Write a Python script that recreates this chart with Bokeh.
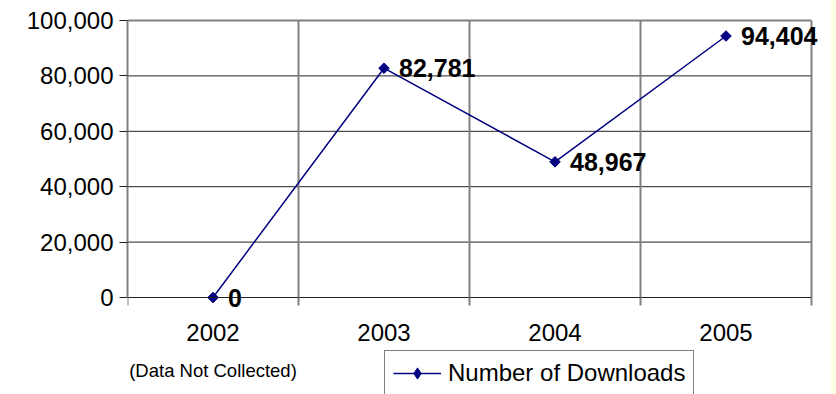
from bokeh.plotting import figure
from bokeh.models import (ColumnDataSource, Range1d, FixedTicker, NumeralTickFormatter,
                          LabelSet, Label, Legend, LegendItem, Spacer)
from bokeh.layouts import row
from bokeh.core.properties import value
from bokeh.embed import file_html
from bokeh.resources import INLINE
import numpy as np

years = ["2002", "2003", "2004", "2005"]
downloads = [0, 82781, 48967, 94404]
value_labels = ["0", "82,781", "48,967", "94,404"]
y_ticks = [0, 20000, 40000, 60000, 80000, 100000]
note_2002 = "(Data Not Collected)"

# layout geometry (pixels)
W, H = 831, 394
plot_left, plot_right, plot_top, plot_bottom = 127, 811, 20, 297
frame_top = 17
n = len(years)
y_max = y_ticks[-1]
px_y = y_max / (plot_bottom - plot_top)          # data units per pixel (y)
cat_px = (plot_right - plot_left) / n            # pixels per category
y_start = -(H - plot_bottom) * px_y
y_end = y_max + (plot_top - frame_top) * px_y
x_start = -0.5
x_end = n - 0.5 + (W - plot_right) / cat_px

xs = list(range(n))
src = ColumnDataSource(dict(x=xs, y=downloads, lab=value_labels))

p = figure(width=W, height=H, output_backend="svg", toolbar_location=None,
           x_range=Range1d(x_start, x_end), y_range=Range1d(y_start, y_end),
           min_border_left=plot_left, min_border_right=0, min_border_top=frame_top,
           min_border_bottom=0)
p.background_fill_color = "white"
p.border_fill_color = "white"
p.outline_line_color = None
p.xgrid.visible = False
p.ygrid.visible = False

# horizontal gridlines (dark)
gy = y_ticks[1:-1]
p.segment(x0=[-0.5] * len(gy), y0=gy, x1=[n - 0.5] * len(gy), y1=gy,
          line_color="#222222", line_width=1)
# vertical category boundaries + top border (grey)
bounds_x = [i + 0.5 for i in xs]
p.segment(x0=bounds_x, y0=[0] * n, x1=bounds_x, y1=[y_max] * n,
          line_color="#808080", line_width=2)
p.segment(x0=[-0.5], y0=[y_max], x1=[n - 0.5], y1=[y_max],
          line_color="#808080", line_width=2)

# x axis at y = 0
p.xaxis.fixed_location = 0
p.xaxis.bounds = (-0.5, n - 0.5)
p.xaxis.ticker = FixedTicker(ticks=xs, minor_ticks=[i - 0.5 for i in range(n + 1)])
p.xaxis.major_label_overrides = {i: y for i, y in enumerate(years)}
p.xaxis.major_tick_line_color = None
p.xaxis.major_tick_out = 0
p.xaxis.major_tick_in = 0
p.xaxis.minor_tick_line_color = "#808080"
p.xaxis.minor_tick_line_width = 2
p.xaxis.minor_tick_out = 8
p.xaxis.minor_tick_in = 0
p.xaxis.axis_line_color = "#222222"
p.xaxis.axis_line_width = 1
p.xaxis.major_label_standoff = 18
p.xaxis.major_label_text_font = "Liberation Sans"
p.xaxis.major_label_text_font_size = "24px"
p.xaxis.major_label_text_color = "black"

# y axis
p.yaxis.bounds = (0, y_max)
p.yaxis.ticker = FixedTicker(ticks=y_ticks)
p.yaxis.formatter = NumeralTickFormatter(format="0,0")
p.yaxis.minor_tick_line_color = None
p.yaxis.major_tick_line_color = "#222222"
p.yaxis.major_tick_out = 8
p.yaxis.major_tick_in = 0
p.yaxis.axis_line_color = "#808080"
p.yaxis.axis_line_width = 2
p.yaxis.major_label_standoff = 6
p.yaxis.major_label_text_font = "Liberation Sans"
p.yaxis.major_label_text_font_size = "24px"
p.yaxis.major_label_text_color = "black"

line_r = p.line("x", "y", source=src, line_color="#000080", line_width=1.5)
pts_r = p.scatter("x", "y", source=src, marker="square", size=7.5, angle=np.pi / 4,
                  fill_color="#000080", line_color="#000080")
# legend-only marker (legend glyphs ignore rotation); hidden in the plot itself
leg_marker = p.scatter("x", "y", source=src, marker="diamond", size=12,
                       fill_color="#000080", line_color="#000080", visible=False)

labels = LabelSet(x="x", y="y", text="lab", source=src, x_offset=15, y_offset=0,
                  text_font=value("Liberation Sans"), text_font_style="bold",
                  text_font_size=value("25px"), text_baseline="middle", text_align="left",
                  text_color="black")
p.add_layout(labels)

note = Label(x=0, y=0, x_units="data", y_units="data", y_offset=-73, text=note_2002,
             text_font="Liberation Sans", text_font_size="18.5px",
             text_align="center", text_baseline="middle", text_color="black")
p.add_layout(note)

legend = Legend(items=[LegendItem(label="Number of Downloads", renderers=[line_r, leg_marker])],
                location=(257, -2), orientation="vertical",
                glyph_width=48, glyph_height=28, label_height=28,
                label_standoff=7, padding=8, margin=0, spacing=0,
                label_text_font="Liberation Sans", label_text_font_size="24px",
                label_text_color="black", border_line_color="black", border_line_width=1,
                background_fill_color="white", background_fill_alpha=1)
p.add_layout(legend, "center")

strip = Spacer(width=836 - W, height=H, styles={"background-color": "#FFFFE6"})
layout = row(p, strip, spacing=0)

open("out.html", "w").write(file_html(layout, INLINE))
